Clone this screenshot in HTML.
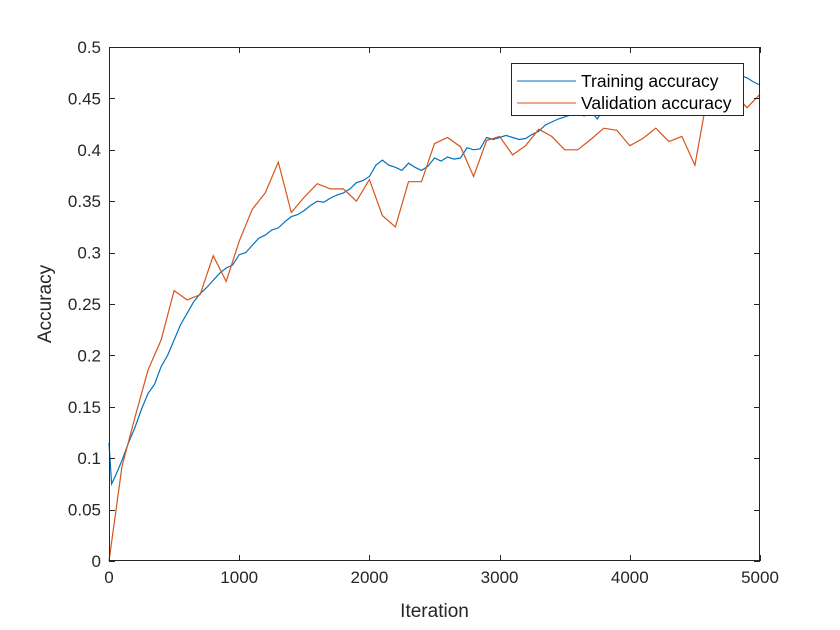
<!DOCTYPE html>
<html><head><meta charset="utf-8"><style>
body{margin:0;background:#fff;}
svg{display:block;font-family:"Liberation Sans",Arial,sans-serif;}
</style></head><body>
<svg id="chart" width="840" height="630" xmlns="http://www.w3.org/2000/svg">
<rect x="0" y="0" width="840" height="630" fill="#fff"/>
<rect x="109" y="47" width="651" height="514" fill="#fff"/>
<g id="series"></g>
<g id="axes"></g>
<text x="434.5" y="617" font-size="19" text-anchor="middle" fill="#262626">Iteration</text>
<text transform="translate(51,304) rotate(-90)" font-size="19" text-anchor="middle" fill="#262626">Accuracy</text>
<g>
<rect x="511.5" y="63.5" width="232" height="52" fill="#fff" stroke="#262626" stroke-width="1"/>
<line x1="517" y1="81" x2="576" y2="81" stroke="#0072BD" stroke-width="1"/>
<text x="581" y="87" font-size="17.5" fill="#000">Training accuracy</text>
<line x1="517" y1="103" x2="576" y2="103" stroke="#D95319" stroke-width="1"/>
<text x="581" y="109" font-size="17.5" fill="#000">Validation accuracy</text>
</g>
</svg>
<script>
const valIters = [0,100,200,300,400,500,600,700,800,900,1000,1100,1200,1300,1400,1500,1600,1700,1800,1900,2000,2100,2200,2300,2400,2500,2600,2700,2800,2900,3000,3100,3200,3300,3400,3500,3600,3700,3800,3900,4000,4100,4200,4300,4400,4500,4600,4700,4800,4900,5000];
const valAcc = [0,0.092,0.140,0.186,0.215,0.263,0.254,0.259,0.297,0.272,0.311,0.342,0.358,0.388,0.339,0.354,0.367,0.362,0.362,0.350,0.371,0.336,0.325,0.369,0.369,0.406,0.412,0.403,0.374,0.409,0.413,0.395,0.404,0.420,0.413,0.400,0.400,0.410,0.421,0.419,0.404,0.411,0.421,0.408,0.413,0.385,0.455,0.460,0.455,0.441,0.454];
const trainIters = [0,20,50,100,150,200,250,300,350,400,450,500,550,600,650,700,750,800,850,900,950,1000,1050,1100,1150,1200,1250,1300,1350,1400,1450,1500,1550,1600,1650,1700,1750,1800,1850,1900,1950,2000,2050,2100,2150,2200,2250,2300,2350,2400,2450,2500,2550,2600,2650,2700,2750,2800,2850,2900,2950,3000,3050,3100,3150,3200,3250,3300,3350,3400,3450,3500,3550,3600,3650,3700,3750,3800,4000,4200,4400,4600,4800,4850,4900,4950,5000];
const trainAcc = [0.115,0.075,0.083,0.098,0.115,0.130,0.148,0.163,0.172,0.189,0.200,0.215,0.230,0.241,0.252,0.260,0.266,0.273,0.280,0.285,0.288,0.298,0.300,0.307,0.314,0.317,0.322,0.324,0.330,0.335,0.337,0.341,0.346,0.350,0.349,0.353,0.356,0.358,0.362,0.368,0.370,0.374,0.385,0.390,0.385,0.383,0.380,0.387,0.383,0.380,0.384,0.392,0.389,0.393,0.391,0.392,0.402,0.400,0.401,0.412,0.410,0.412,0.414,0.412,0.410,0.411,0.415,0.418,0.424,0.427,0.430,0.432,0.434,0.435,0.433,0.438,0.430,0.440,0.445,0.450,0.455,0.460,0.468,0.472,0.470,0.466,0.463];
const xTicks = [0,1000,2000,3000,4000,5000];
const yTicks = [0,0.05,0.1,0.15,0.2,0.25,0.3,0.35,0.4,0.45,0.5];
const yTickLabels = ["0","0.05","0.1","0.15","0.2","0.25","0.3","0.35","0.4","0.45","0.5"];

const NS="http://www.w3.org/2000/svg";
const X0=109,X1=760,Y0=561,Y1=47;
const sx=v=>X0+(v/5000)*(X1-X0);
const sy=v=>Y0-(v/0.5)*(Y0-Y1);
const series=document.getElementById('series');
const axes=document.getElementById('axes');
function mk(tag,attrs){const e=document.createElementNS(NS,tag);for(const k in attrs)e.setAttribute(k,attrs[k]);return e;}

const tp=mk('polyline',{points:trainIters.map((t,i)=>sx(t).toFixed(1)+','+sy(trainAcc[i]).toFixed(1)).join(' '),fill:'none',stroke:'#0072BD','stroke-width':1.2});


series.appendChild(tp);
const vp=mk('polyline',{points:valIters.map((t,i)=>sx(t).toFixed(1)+','+sy(valAcc[i]).toFixed(1)).join(' '),fill:'none',stroke:'#D95319','stroke-width':1.2});


series.appendChild(vp);

const box=mk('rect',{x:X0+0.5,y:Y1+0.5,width:X1-X0-1,height:Y0-Y1-1,fill:'none',stroke:'#262626','stroke-width':1});


axes.appendChild(box);
xTicks.forEach(t=>{
  const x=Math.round(sx(t))+0.5;
  const l=mk('path',{d:`M${x},${Y0}v-6M${x},${Y1}v6`,stroke:'#262626','stroke-width':1});
  
  
  axes.appendChild(l);
  const tx=mk('text',{x:sx(t),y:Y0+22,'font-size':17,'text-anchor':'middle',fill:'#262626'});
  tx.textContent=t;
  
  
  axes.appendChild(tx);
});
yTicks.forEach((t,i)=>{
  const y=Math.round(sy(t))+0.5;
  const l=mk('path',{d:`M${X0},${y}h6M${X1},${y}h-6`,stroke:'#262626','stroke-width':1});
  
  
  axes.appendChild(l);
  const tx=mk('text',{x:X0-8,y:sy(t)+6,'font-size':17,'text-anchor':'end',fill:'#262626'});
  tx.textContent=yTickLabels[i];
  
  
  axes.appendChild(tx);
});
</script>
</body></html>
